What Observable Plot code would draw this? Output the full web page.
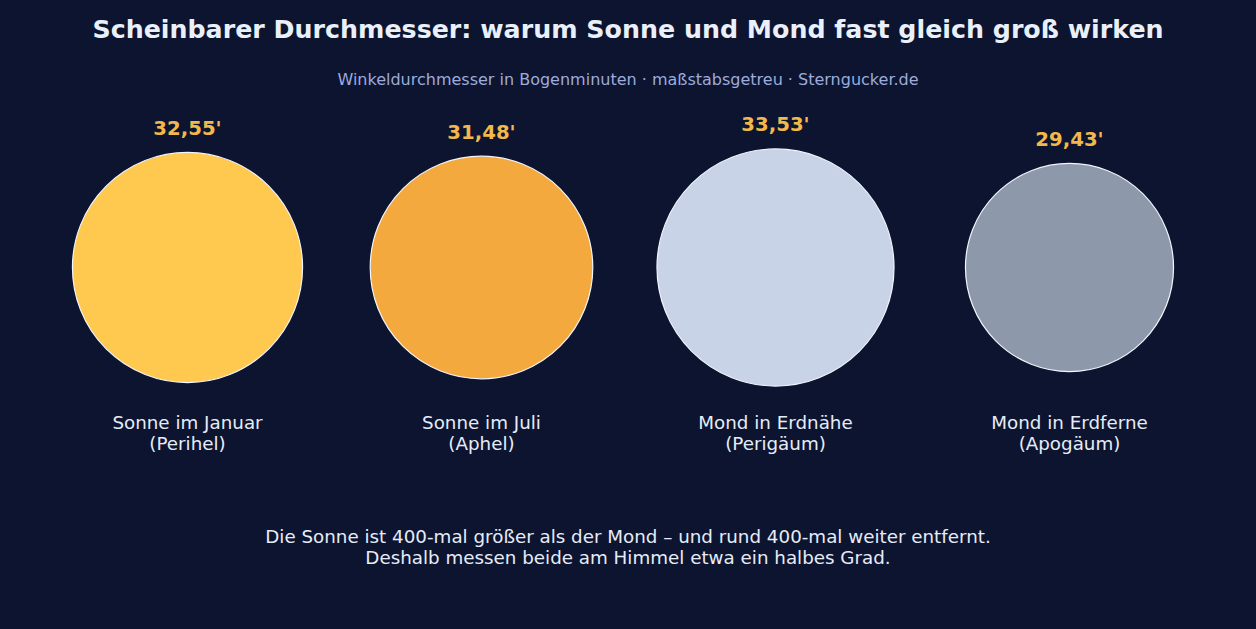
<!DOCTYPE html>
<html><head><meta charset="utf-8">
<script src="https://cdn.jsdelivr.net/npm/d3@7"></script>
<script src="https://cdn.jsdelivr.net/npm/@observablehq/plot@0.6"></script>
<style>
html,body{margin:0;padding:0;background:#0c1430;width:1256px;height:629px;overflow:hidden;font-family:"DejaVu Sans",sans-serif;}
#title{height:58px;line-height:60px;text-align:center;font-size:25.3px;font-weight:bold;color:#eaf0fa;overflow:visible;}
#subtitle{height:42px;line-height:44px;text-align:center;font-size:16px;color:#9eabdb;overflow:visible;}
#chart svg{display:block;}
#footer{text-align:center;font-size:18.3px;line-height:21px;color:#e6ecf7;}
</style></head>
<body>
<div id="title">Scheinbarer Durchmesser: warum Sonne und Mond fast gleich groß wirken</div>
<div id="subtitle">Winkeldurchmesser in Bogenminuten · maßstabsgetreu · Sterngucker.de</div>
<div id="chart"></div>
<div id="footer">Die Sonne ist 400-mal größer als der Mond – und rund 400-mal weiter entfernt.<br>Deshalb messen beide am Himmel etwa ein halbes Grad.</div>
<script>
const categories = ["Sonne im Januar\n(Perihel)", "Sonne im Juli\n(Aphel)", "Mond in Erdnähe\n(Perigäum)", "Mond in Erdferne\n(Apogäum)"];
const diameters = [32.55, 31.48, 33.53, 29.43];
const valueLabels = ["32,55'", "31,48'", "33,53'", "29,43'"];
const fills = ["#ffc84e", "#f4a93e", "#c8d3e8", "#8d98ab"];

const data = categories.map((c, i) => ({cat: c, d: diameters[i], label: valueLabels[i], fill: fills[i]}));
const pxPerArcmin = 7.07;

const plot = Plot.plot({
  width: 1256,
  height: 426,
  margin: 0,
  style: {background: "transparent", fontFamily: "DejaVu Sans, sans-serif"},
  x: {type: "point", domain: categories, range: [187, 1069], padding: 0, axis: null},
  y: {type: "linear", domain: [0, 1], range: [167, 167 - pxPerArcmin], axis: null},
  r: {type: "linear", domain: [0, 1], range: [0, pxPerArcmin / 2]},
  marks: [
    Plot.dot(data, {x: "cat", y: () => 0, r: "d", fill: "fill", stroke: "#f2f5fc", strokeWidth: 1.2}),
    Plot.text(data, {x: "cat", y: d => d.d / 2, text: "label", dy: -24, fill: "#f2b84b", fontSize: 19.7, fontWeight: "bold"}),
    Plot.text(data, {x: "cat", y: () => 0, text: "cat", dy: 165.5, fill: "#e6ecf7", fontSize: 18.3, lineHeight: 1.15})
  ]
});
document.getElementById("chart").appendChild(plot);
</script>
</body></html>
